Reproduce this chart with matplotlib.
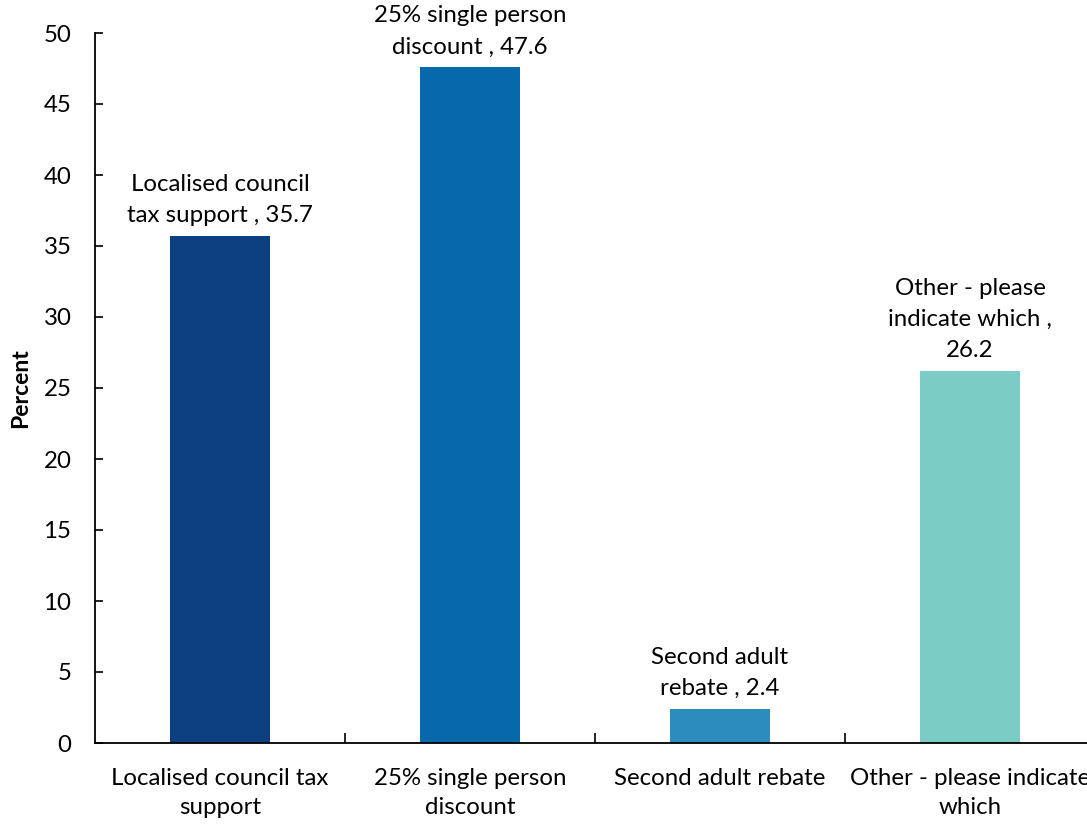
import matplotlib
matplotlib.use("Agg")
import matplotlib.pyplot as plt

categories = ["Localised council tax\nsupport", "25% single person\ndiscount",
              "Second adult rebate", "Other - please indicate\nwhich"]
values = [35.7, 47.6, 2.4, 26.2]
bar_labels = ["Localised council\ntax support , 35.7", "25% single person\ndiscount , 47.6",
              "Second adult\nrebate , 2.4", "Other - please\nindicate which ,\n26.2"]
colors = ["#0b3f7f", "#0868ac", "#2b8cbe", "#7bccc4"]
yticks = [0, 5, 10, 15, 20, 25, 30, 35, 40, 45, 50]

plt.rcParams['font.family'] = ['Lato', 'DejaVu Sans']
fig = plt.figure(figsize=(10.87, 8.25), dpi=100)
ax = fig.add_axes([95/1087, (825-743)/825, 1000/1087, 710/825])

FS = 17.3
x = list(range(len(categories)))
ax.bar(x, values, width=0.4, color=colors, zorder=2)
for xi, v, lab in zip(x, values, bar_labels):
    ax.annotate(lab, (xi, v), xytext=(0, 7), textcoords="offset points",
                ha="center", va="bottom", fontsize=FS, linespacing=1.6,
                annotation_clip=False)

ax.set_xlim(-0.5, 3.5)
ax.set_ylim(0, 50)
ax.set_yticks(yticks)
ax.tick_params(axis='y', direction='in', length=6, width=1.2, labelsize=FS, pad=17)
ax.set_xticks([0.5, 1.5, 2.5])
ax.set_xticklabels([])
ax.tick_params(axis='x', which='major', direction='in', length=7, width=1.2)
ax.set_xticks(x, minor=True)
ax.set_xticklabels(categories, minor=True, fontsize=FS, linespacing=1.5)
ax.tick_params(axis='x', which='minor', length=0, pad=18)
for s in ['top', 'right']:
    ax.spines[s].set_visible(False)
for s in ['left', 'bottom']:
    ax.spines[s].set_linewidth(1.3)
ax.set_ylabel("Percent", fontsize=16.5, fontweight='bold', labelpad=9)
fig.savefig("out.png", dpi=100)
